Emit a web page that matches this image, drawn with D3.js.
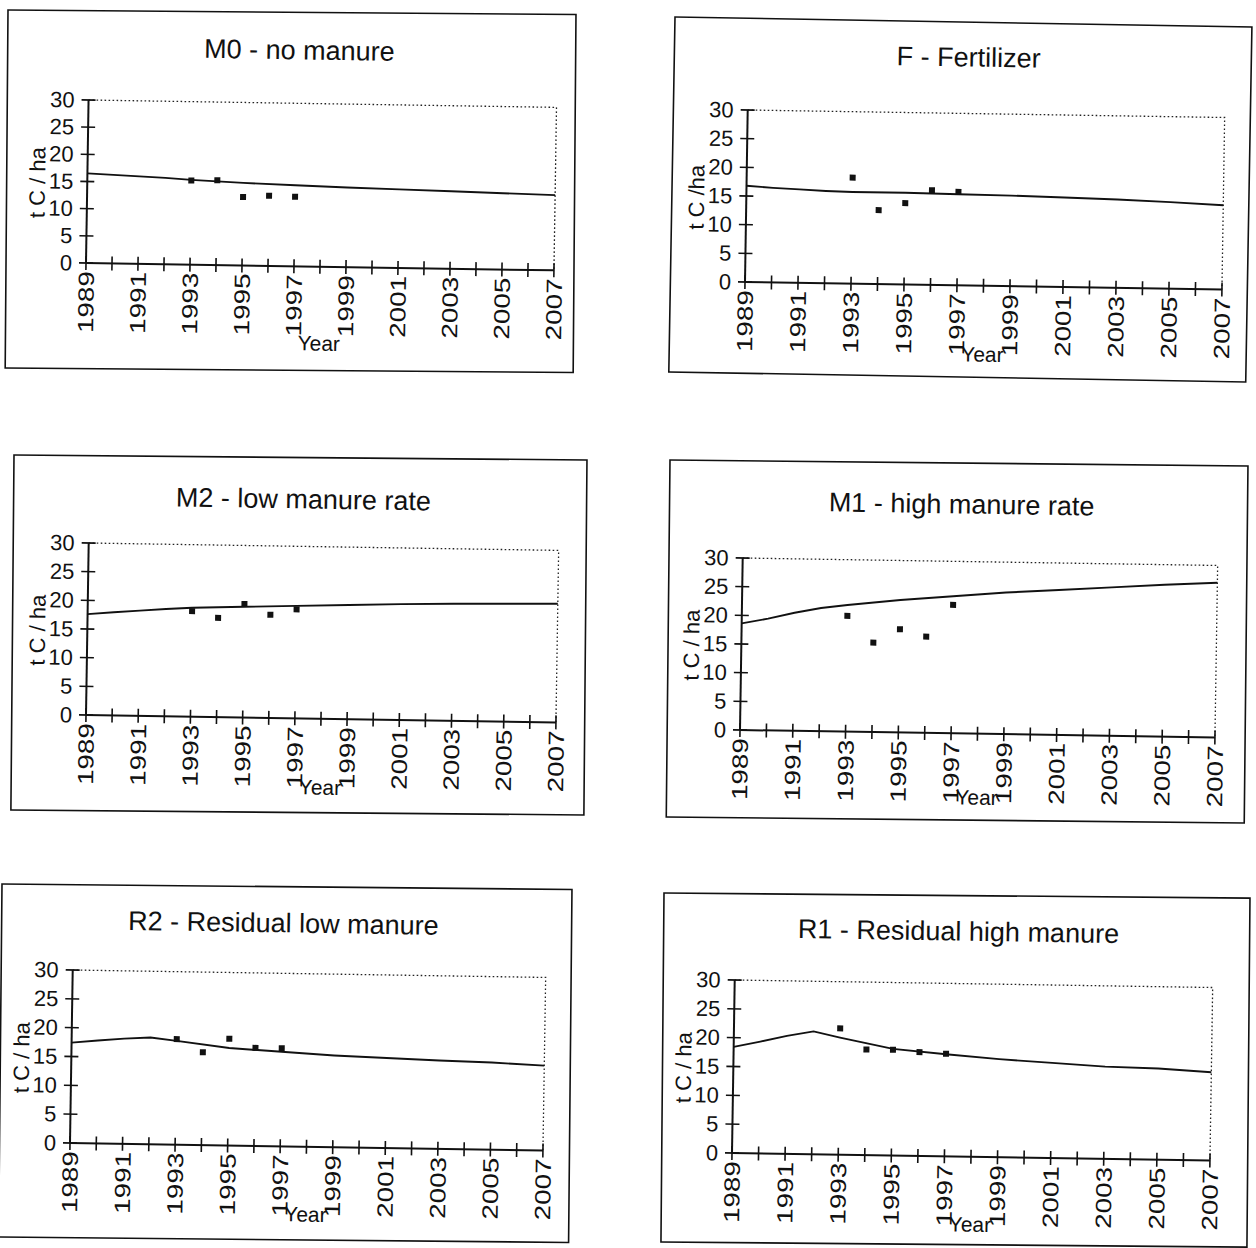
<!DOCTYPE html>
<html>
<head>
<meta charset="utf-8">
<script src="https://cdn.jsdelivr.net/npm/d3@7/dist/d3.min.js"></script>
<style>
  body { margin: 0; background: #fff; }
  text { font-family: "Liberation Sans", Arial, Helvetica, sans-serif; fill: #111; }
</style>
</head>
<body>
<svg id="chart" width="1256" height="1248"></svg>
<script>
// values
const titles = ["M0 - no manure", "F - Fertilizer", "M2 - low manure rate",
                "M1 - high manure rate", "R2 - Residual low manure", "R1 - Residual high manure"];
const yLabels = ["t C / ha", "t C /ha", "t C / ha", "t C / ha", "t C / ha", "t C / ha"];

const modelYears = [1989, 1990, 1991, 1992, 1993, 1995, 1997, 1999, 2001, 2003, 2005, 2007];
const obsYears   = [1993, 1994, 1995, 1996, 1997];

const m0Model = [16.5, 16.3, 16.1, 15.9, 15.6, 15.2, 14.9, 14.65, 14.45, 14.25, 14.05, 13.85];
const fModel  = [16.8, 16.5, 16.3, 16.1, 16.0, 16.0, 15.9, 15.8, 15.6, 15.4, 15.1, 14.7];
const m2Model = [17.6, 18.0, 18.35, 18.7, 19.0, 19.3, 19.6, 19.9, 20.2, 20.4, 20.55, 20.7];
const m1Model = [18.6, 19.5, 20.6, 21.5, 22.1, 23.1, 23.9, 24.7, 25.3, 25.9, 26.5, 27.0];
const r2Model = [17.4, 17.85, 18.25, 18.5, 18.0, 16.9, 16.4, 15.9, 15.6, 15.3, 15.1, 14.7];
const r1Model = [18.4, 19.4, 20.45, 21.3, 20.3, 18.5, 17.7, 17.0, 16.5, 16.0, 15.8, 15.3];

const m0Obs = [15.5, 15.6, 12.6, 12.9, 12.8];
const fObs  = [18.5, 12.9, 14.2, 16.5, 16.3];
const m2Obs = [18.4, 17.3, 19.8, 18.0, 19.0];
const m1Obs = [20.2, 15.6, 18.0, 16.8, 22.4];
const r2Obs = [18.3, 16.1, 18.5, 17.0, 17.0];
const r1Obs = [21.9, 18.3, 18.35, 18.0, 17.8];

const yTicks = [0, 5, 10, 15, 20, 25, 30];
const xLabelYears = [1989, 1991, 1993, 1995, 1997, 1999, 2001, 2003, 2005, 2007];
const xMarkYears = [1989, 1990, 1991, 1992, 1993, 1994, 1995, 1996, 1997, 1998,
                    1999, 2000, 2001, 2002, 2003, 2004, 2005, 2006, 2007];

const models = [m0Model, fModel, m2Model, m1Model, r2Model, r1Model];
const obs = [m0Obs, fObs, m2Obs, m1Obs, r2Obs, r1Obs];

// page layout of each panel: plot origin/size, title, frame (page coords) and frame tilt
const layout = [
  {px: 86,  py: 100, w: 468, h: 163, tx: 210, ty: -44, yr: 84, frame: [8, 10, 568, 358],   ft: 0.45},
  {px: 745, py: 110, w: 477, h: 172, tx: 220, ty: -47, yr: 76, frame: [675, 17, 577, 355], ft: 1.0},
  {px: 86,  py: 543, w: 470, h: 172, tx: 214, ty: -38, yr: 76, frame: [14, 455, 573, 355], ft: 0.5},
  {px: 740, py: 558, w: 475, h: 172, tx: 218, ty: -48, yr: 71, frame: [670, 460, 578, 357], ft: 0.6},
  {px: 70,  py: 970, w: 473, h: 173, tx: 210, ty: -41, yr: 75, frame: [2, 884, 570, 353],  ft: 0.55},
  {px: 732, py: 980, w: 478, h: 173, tx: 223, ty: -43, yr: 75, frame: [664, 893, 586, 349], ft: 0.5}
];
const tilt = 0.9; // the scan is slightly rotated

const svg = d3.select("#chart");

titles.forEach(function(title, i) {
    var L = layout[i];

    // outer frame
    svg.append("rect")
        .attr("transform", "translate(" + L.frame[0] + "," + L.frame[1] + ") rotate(" + L.ft + ")")
        .attr("width", L.frame[2]).attr("height", L.frame[3])
        .attr("fill", "none").attr("stroke", "#111").attr("stroke-width", 1.6);

    var g = svg.append("g")
        .attr("transform", "translate(" + L.px + "," + (L.py + L.h) + ") rotate(" + tilt + ") translate(0," + (-L.h) + ")");

    var x = d3.scaleLinear().domain([1989, 2007]).range([0, L.w]);
    var y = d3.scaleLinear().domain([0, 30]).range([L.h, 0]);

    g.append("text")
        .attr("x", L.tx).attr("y", L.ty)
        .attr("text-anchor", "middle")
        .attr("font-size", 27)
        .text(title);

    // dotted plot area border (top and right)
    g.append("path")
        .attr("d", "M0,0H" + L.w + "V" + L.h)
        .attr("fill", "none").attr("stroke", "#222")
        .attr("stroke-width", 1.3).attr("stroke-dasharray", "1.6,2.4");

    // model line
    var line = d3.line()
        .x(function(d, j) { return x(modelYears[j]); })
        .y(function(d) { return y(d); });
    g.append("path")
        .datum(models[i])
        .attr("d", line)
        .attr("fill", "none").attr("stroke", "#111").attr("stroke-width", 1.9);

    // observed values
    g.selectAll(".obs")
        .data(obs[i])
        .join("rect")
        .attr("class", "obs")
        .attr("x", function(d, j) { return x(obsYears[j]) - 3; })
        .attr("y", function(d) { return y(d) - 3; })
        .attr("width", 6).attr("height", 6)
        .attr("fill", "#111");

    // y axis
    var ya = g.append("g")
        .call(d3.axisLeft(y).tickValues(yTicks).tickSize(0).tickPadding(14));
    ya.select(".domain").remove();
    ya.selectAll("text").attr("font-size", 22);

    g.append("line")
        .attr("x1", 0).attr("x2", 0).attr("y1", y(0)).attr("y2", y(30))
        .attr("stroke", "#111").attr("stroke-width", 2);
    g.selectAll(".ytick")
        .data(yTicks)
        .join("line")
        .attr("class", "ytick")
        .attr("x1", -7).attr("x2", 7)
        .attr("y1", function(d) { return y(d); })
        .attr("y2", function(d) { return y(d); })
        .attr("stroke", "#111").attr("stroke-width", 1.6);

    // x axis
    g.append("line")
        .attr("x1", 0).attr("x2", L.w).attr("y1", L.h).attr("y2", L.h)
        .attr("stroke", "#111").attr("stroke-width", 2);
    g.selectAll(".xtick")
        .data(xMarkYears)
        .join("line")
        .attr("class", "xtick")
        .attr("x1", function(d) { return x(d); })
        .attr("x2", function(d) { return x(d); })
        .attr("y1", L.h - 7).attr("y2", L.h + 7)
        .attr("stroke", "#111").attr("stroke-width", 1.6);

    var xa = g.append("g")
        .attr("transform", "translate(0," + L.h + ")")
        .call(d3.axisBottom(x).tickValues(xLabelYears).tickFormat(d3.format("d")).tickSize(0));
    xa.select(".domain").remove();
    xa.selectAll("text")
        .attr("transform", "rotate(-90)")
        .attr("text-anchor", "end")
        .attr("x", -8).attr("y", 0).attr("dy", "0.35em")
        .attr("font-size", 22)
        .attr("textLength", 62)
        .attr("lengthAdjust", "spacingAndGlyphs");

    // axis titles
    g.append("text")
        .attr("transform", "translate(-50," + (L.h / 2 + 2) + ") rotate(-90)")
        .attr("text-anchor", "middle")
        .attr("dy", "0.35em")
        .attr("font-size", 22)
        .text(yLabels[i]);

    g.append("text")
        .attr("x", L.w / 2).attr("y", L.h + L.yr)
        .attr("text-anchor", "middle")
        .attr("font-size", 21)
        .text("Year");
});
</script>
</body>
</html>
